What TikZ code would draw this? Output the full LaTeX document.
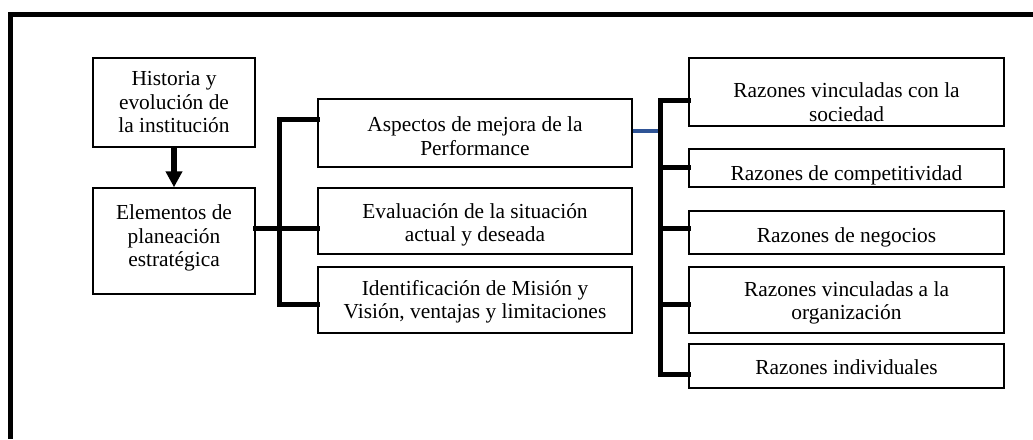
\documentclass[tikz,border=0pt]{standalone}
\usepackage{fontspec}
\setmainfont{Liberation Serif}
\usetikzlibrary{arrows.meta}
\definecolor{lineblue}{RGB}{47,84,150}
\begin{document}
\begin{tikzpicture}[x=1pt,y=-1pt,
  box/.style={draw,line width=1.4pt,inner sep=0pt,rectangle},
  txt/.style={align=center,inner sep=0pt,font=\fontsize{21.4}{23.5}\selectfont},
  br/.style={line width=5pt,line join=miter,line cap=rect},
  frame/.style={line width=5pt}]
\useasboundingbox (0,0) rectangle (1033,439);
% frame
\coordinate (fc) at (10.5,14.5);
\coordinate (fr) at (1033,14.5);
\coordinate (fb) at (10.5,439);
\draw[frame] (fr) -- (fc) -- (fb);
% left column
\node[box,minimum width=162pt,minimum height=89pt] (his) at (174,102.5) {};
\node[txt] (hist) at (his.center) {Historia y\\evolución de\\la institución};
\node[box,minimum width=162pt,minimum height=106pt] (ele) at (174,241) {};
\node[txt] (elet) at (his.center |- 0,238) {Elementos de\\planeación\\estratégica};
% middle column
\node[box,minimum width=314pt,minimum height=68pt] (asp) at (475,133) {};
\node[txt] (aspt) at (475,136) {Aspectos de mejora de la\\Performance};
\node[box,minimum width=314pt,minimum height=66pt] (eva) at (475,221) {};
\node[txt] (evat) at (475,225) {Evaluación de la situación\\actual y deseada};
\node[box,minimum width=314pt,minimum height=66pt] (ide) at (475,300) {};
\node[txt] (idet) at (475,302) {Identificación de Misión y\\Visión, ventajas y limitaciones};
% right column
\node[box,minimum width=315pt,minimum height=68pt] (r1) at (846.5,92) {};
\node[txt] (r1t) at (846.5,102) {Razones vinculadas con la\\sociedad};
\node[box,minimum width=315pt,minimum height=38pt] (r2) at (846.5,168) {};
\node[txt] (r2t) at (846.5,175) {Razones de competitividad};
\node[box,minimum width=315pt,minimum height=43pt] (r3) at (846.5,232.5) {};
\node[txt] (r3t) at (846.5,237) {Razones de negocios};
\node[box,minimum width=315pt,minimum height=66pt] (r4) at (846.5,300) {};
\node[txt] (r4t) at (846.5,303) {Razones vinculadas a la\\organización};
\node[box,minimum width=315pt,minimum height=44pt] (r5) at (846.5,366) {};
\node[txt] (r5t) at (846.5,367) {Razones individuales};
% arrow
\draw[line width=6pt,-{Triangle[width=16pt,length=16pt]}] (his.south) -- (ele.north);
% left bracket
\coordinate (lt) at (279.5,119);
\coordinate (lb) at (279.5,304);
\coordinate (lm) at (279.5,228);
\draw[br] (asp.west |- lt) -- (lt) -- (lb) -- (ide.west |- lb);
\draw[br] (ele.east |- lm) -- (eva.west |- lm);
% right bracket
\coordinate (rt) at (660.5,100);
\coordinate (rb) at (660.5,374);
\draw[br] (r1.west |- rt) -- (rt) -- (rb) -- (r5.west |- rb);
\draw[br] (rt |- 0,167) -- (r2.west |- 0,167);
\draw[br] (rt |- 0,228) -- (r3.west |- 0,228);
\draw[br] (rt |- 0,304) -- (r4.west |- 0,304);
\draw[line width=4pt,lineblue] (asp.east |- 0,131) -- (658,131);
\end{tikzpicture}
\end{document}
